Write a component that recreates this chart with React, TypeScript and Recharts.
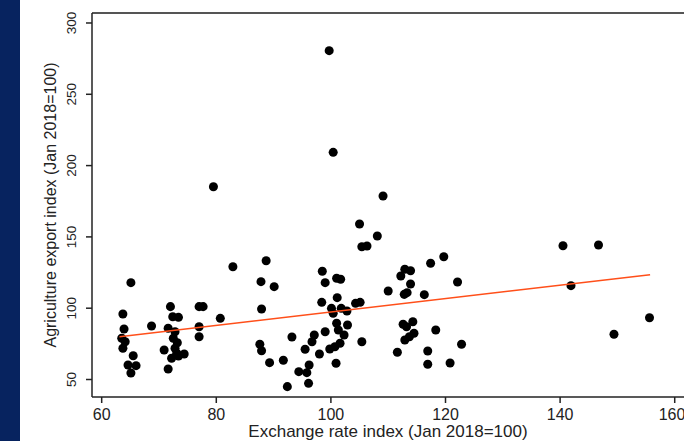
import React from 'react';
import {
  ScatterChart,
  Scatter,
  XAxis,
  YAxis,
  ZAxis,
  ReferenceLine,
} from 'recharts';

// values
const exchangeRate = [
  63.7, 65.1, 63.9, 63.5, 64.1, 63.7, 65.5, 64.6, 66.0, 65.1,
  68.7, 72.0, 72.4, 73.4, 71.6, 72.8, 72.5, 73.2, 70.9, 72.8,
  73.1, 72.2, 73.4, 74.4, 71.6, 77.0, 77.7, 77.0, 77.0, 80.7,
  82.9, 88.7, 87.8, 90.1, 87.9, 87.6, 87.9, 89.3, 91.7, 93.2,
  92.4, 94.4, 95.8, 96.2, 96.1, 95.5, 96.7, 97.1, 98.0, 99.0,
  98.5, 99.0, 98.4, 101.0, 101.7, 100.1, 101.1, 101.8, 102.8, 100.4,
  101.0, 101.3, 102.3, 102.9, 101.6, 100.7, 99.8, 100.9, 104.3, 105.1,
  105.4, 105.0, 105.4, 106.3, 108.1, 109.1, 99.7, 100.4, 79.5, 112.9,
  113.9, 112.2, 117.4, 119.7, 113.9, 110.0, 112.8, 113.3, 116.3, 122.1,
  112.6, 114.3, 113.2, 114.5, 113.7, 112.9, 118.3, 111.6, 116.9, 122.8,
  116.9, 120.8, 140.5, 146.7, 141.9, 149.4, 155.6,
];

const agriExport = [
  95.9, 117.9, 85.4, 78.9, 76.5, 71.9, 66.7, 60.2, 59.7, 54.6,
  87.5, 101.1, 94.0, 93.6, 85.9, 83.5, 78.9, 75.8, 70.7, 71.9,
  68.4, 64.9, 66.5, 67.9, 57.4, 101.1, 101.1, 87.0, 80.0, 92.9,
  129.1, 133.3, 118.6, 115.1, 99.4, 74.7, 70.2, 61.8, 63.5, 79.8,
  45.0, 55.5, 54.8, 60.2, 47.3, 71.2, 76.5, 81.2, 67.9, 83.5,
  125.9, 117.9, 104.1, 121.0, 120.3, 99.9, 107.4, 99.9, 98.0, 96.4,
  89.4, 84.7, 81.2, 88.2, 75.4, 73.0, 71.4, 61.4, 103.4, 104.1,
  76.5, 159.0, 143.1, 143.6, 150.6, 178.7, 280.6, 209.3, 185.2, 127.3,
  126.3, 122.6, 131.5, 136.1, 117.0, 112.1, 109.7, 110.9, 109.5, 118.4,
  88.7, 90.5, 87.0, 82.4, 80.0, 77.7, 84.7, 69.1, 70.0, 74.7,
  60.7, 61.6, 143.8, 144.3, 115.8, 81.7, 93.3,
];

// fitted line ends, as drawn in the reference
const fitX = [63.1, 155.7];
const fitY = [80.0, 123.5];

const xTicks = [60, 80, 100, 120, 140, 160];
const yTicks = [50, 100, 150, 200, 250, 300];

const X_MIN = 58.31;
const X_MAX = 161.62;
const Y_MIN = 37.73;
const Y_MAX = 307.0;

const points = exchangeRate.map((x, i) => ({ x, y: agriExport[i] }));
const fitLine = fitX.map((x, i) => ({ x, y: fitY[i] }));

const FONT = '"Liberation Sans", Arial, Helvetica, sans-serif';
const TEXT = '#222';

const XTick = (props: any) => {
  const { x, y, payload } = props;
  return (
    <text x={x} y={y + 17} textAnchor="middle" fontSize={16} fontFamily={FONT} fill={TEXT}>
      {payload.value}
    </text>
  );
};

const YTick = (props: any) => {
  const { x, y, payload } = props;
  return (
    <text
      transform={`translate(${x - 10},${y}) rotate(-90)`}
      textAnchor="middle"
      fontSize={13.5}
      fontFamily={FONT}
      fill={TEXT}
    >
      {payload.value}
    </text>
  );
};

const XTitle = (props: any) => {
  const vb = props.viewBox || { x: 92, y: 397, width: 592, height: 44 };
  return (
    <text x={vb.x + vb.width / 2} y={vb.y + 40} textAnchor="middle" fontSize={17} fontFamily={FONT} fill={TEXT}>
      Exchange rate index (Jan 2018=100)
    </text>
  );
};

const YTitle = (props: any) => {
  const vb = props.viewBox || { x: 0, y: 13, width: 92, height: 384 };
  const cy = vb.y + vb.height / 2;
  return (
    <text
      transform={`translate(56,${cy}) rotate(-90)`}
      textAnchor="middle"
      fontSize={16}
      fontFamily={FONT}
      fill={TEXT}
    >
      Agriculture export index (Jan 2018=100)
    </text>
  );
};

const NoDot = () => <g />;

export default function App() {
  return (
    <div style={{ position: 'absolute', left: 0, top: 0, width: 684, height: 441, overflow: 'hidden', background: '#fff' }}>
      <div style={{ position: 'absolute', left: 0, top: 0, width: 20, height: 441, background: '#07235f' }} />
      <div style={{ position: 'absolute', left: 0, top: 0 }}>
        <ScatterChart width={684} height={441} margin={{ top: 13, right: 0, bottom: 0, left: 0 }}>
          <XAxis
            type="number"
            dataKey="x"
            domain={[X_MIN, X_MAX]}
            ticks={xTicks}
            allowDataOverflow
            height={44}
            tickSize={6}
            tickMargin={0}
            stroke="#222"
            strokeWidth={1.5}
            tick={<XTick />}
            label={XTitle}
          />
          <YAxis
            type="number"
            dataKey="y"
            domain={[Y_MIN, Y_MAX]}
            ticks={yTicks}
            allowDataOverflow
            width={92}
            tickSize={6}
            tickMargin={0}
            stroke="#222"
            strokeWidth={1.5}
            tick={<YTick />}
            label={YTitle}
          />
          <ZAxis range={[60, 60]} />
          <ReferenceLine y={Y_MAX} stroke="#555" strokeWidth={2} />
          <Scatter data={points} fill="#000" isAnimationActive={false} />
          <Scatter
            data={fitLine}
            line={{ stroke: '#ff4f1a', strokeWidth: 1.5 }}
            shape={NoDot}
            isAnimationActive={false}
          />
        </ScatterChart>
      </div>
    </div>
  );
}
